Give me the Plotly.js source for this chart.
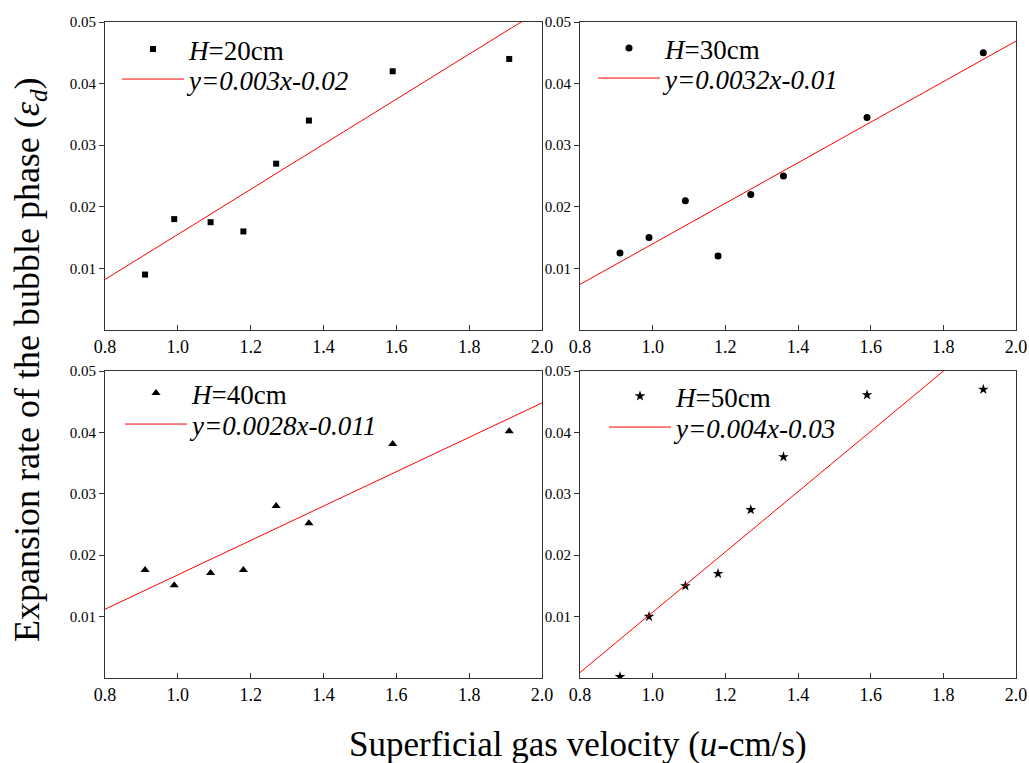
<!DOCTYPE html>
<html>
<head>
<meta charset="utf-8">
<script src="https://cdn.plot.ly/plotly-3.0.1.min.js"></script>
<style>html,body{margin:0;padding:0;background:#fff;}#chart{width:1029px;height:763px;}</style>
</head>
<body>
<div id="chart"></div>
<script>
// ---- data ----
const velocity = [0.91, 0.99, 1.09, 1.18, 1.27, 1.36, 1.59, 1.91];
const expH20 = [0.009, 0.018, 0.0175, 0.016, 0.027, 0.034, 0.042, 0.044];
const expH30 = [0.0125, 0.015, 0.021, 0.012, 0.022, 0.025, 0.0345, 0.045];
const expH40 = [0.0176, 0.0151, 0.0171, 0.0176, 0.028, 0.0252, 0.0381, 0.0402];
const expH50 = [0.0002, 0.010, 0.015, 0.017, 0.0274, 0.036, 0.0461, 0.047];
const fitX = [0.8, 2.0];
const fitH20 = [0.0082, 0.0521];
const fitH30 = [0.0074, 0.0469];
const fitH40 = [0.0112, 0.0448];
const fitH50 = [0.0009, 0.0598];
const seriesNames = ['<i>H</i>=20cm', '<i>H</i>=30cm', '<i>H</i>=40cm', '<i>H</i>=50cm'];
const fitNames = ['<i>y=0.003x-0.02</i>', '<i>y=0.0032x-0.01</i>', '<i>y=0.0028x-0.011</i>', '<i>y=0.004x-0.03</i>'];
const xTickVals = [0.8, 1.0, 1.2, 1.4, 1.6, 1.8, 2.0];
const xTickText = ['0.8', '1.0', '1.2', '1.4', '1.6', '1.8', '2.0'];
const yTickVals = [0.01, 0.02, 0.03, 0.04, 0.05];
const yTickText = ['0.01', '0.02', '0.03', '0.04', '0.05'];

const W = 1029, H = 763;
const FONT = 'Liberation Serif, serif';
const symbols = ['square', 'circle', 'triangle-up', 'star'];
const msizes = [6, 7, 8, 8];
const pts = [expH20, expH30, expH40, expH50];
const fits = [fitH20, fitH30, fitH40, fitH50];

// panel pixel boxes [left, right, top, bottom]
const boxes = [[105, 542, 22, 330], [580, 1016, 22, 330], [105, 542, 371, 678], [580, 1016, 371, 678]];
// legend anchors in pixels: [left, top of marker row, top of line row]
const legPos = [[117, 25, 55], [593, 24, 54], [120, 369, 400], [604, 372, 403]];

const traces = [];
const layout = {
  width: W, height: H,
  margin: {l: 0, r: 0, t: 0, b: 0},
  paper_bgcolor: '#fff', plot_bgcolor: '#fff',
  showlegend: true,
  font: {family: FONT, color: '#000'},
  annotations: [
    {text: 'Expansion rate of the bubble phase (<i>ε</i><sub><i>d</i></sub>)', xref: 'paper', yref: 'paper',
     x: 30 / W, y: 1 - 360 / H, textangle: -90, showarrow: false, font: {family: FONT, size: 36, color: '#000'},
     xanchor: 'center', yanchor: 'middle'},
    {text: 'Superficial gas velocity (<i>u</i>-cm/s)', xref: 'paper', yref: 'paper',
     x: 578 / W, y: 1 - 744 / H, showarrow: false, font: {family: FONT, size: 35, color: '#000'},
     xanchor: 'center', yanchor: 'middle'}
  ]
};

function legName(n) { return n === 1 ? 'legend' : 'legend' + n; }
function legObj(x, top) {
  return {
    x: x / W, y: 1 - top / H, xanchor: 'left', yanchor: 'top', visible: true,
    xref: 'paper', yref: 'paper', bgcolor: 'rgba(0,0,0,0)', borderwidth: 0,
    font: {family: FONT, size: 27, color: '#000'}, itemwidth: 62
  };
}

for (let i = 0; i < 4; i++) {
  const sfx = i === 0 ? '' : String(i + 1);
  const legM = legName(2 * i + 1), legL = legName(2 * i + 2);
  traces.push({
    x: velocity, y: pts[i], type: 'scatter', mode: 'markers', name: seriesNames[i],
    xaxis: 'x' + sfx, yaxis: 'y' + sfx, legend: legM, cliponaxis: true, showlegend: true,
    marker: {symbol: symbols[i], size: msizes[i], color: '#000'}
  });
  traces.push({
    x: fitX, y: fits[i], type: 'scatter', mode: 'lines', name: fitNames[i],
    xaxis: 'x' + sfx, yaxis: 'y' + sfx, legend: legL, showlegend: true,
    line: {color: '#ff0000', width: 1}
  });
  const b = boxes[i];
  layout['xaxis' + sfx] = {
    domain: [b[0] / W, b[1] / W], anchor: 'y' + sfx, range: [0.8, 2.0],
    tickvals: xTickVals, ticktext: xTickText, ticks: 'inside', ticklen: 5, tickcolor: '#333',
    showline: true, mirror: true, linecolor: '#333', linewidth: 1, showgrid: false, zeroline: false,
    tickfont: {family: FONT, size: 18, color: '#000'}
  };
  layout['yaxis' + sfx] = {
    domain: [1 - b[3] / H, 1 - b[2] / H], anchor: 'x' + sfx, range: [0, 0.05],
    tickvals: yTickVals, ticktext: yTickText, ticks: 'outside', ticklen: 5, tickcolor: '#333',
    showline: true, mirror: true, linecolor: '#333', linewidth: 1, showgrid: false, zeroline: false,
    tickfont: {family: FONT, size: 15, color: '#000'}
  };
  layout[legM] = legObj(legPos[i][0], legPos[i][1]);
  layout[legL] = legObj(legPos[i][0], legPos[i][2]);
}

Plotly.newPlot('chart', traces, layout, {displayModeBar: false, staticPlot: true});
</script>
</body>
</html>
